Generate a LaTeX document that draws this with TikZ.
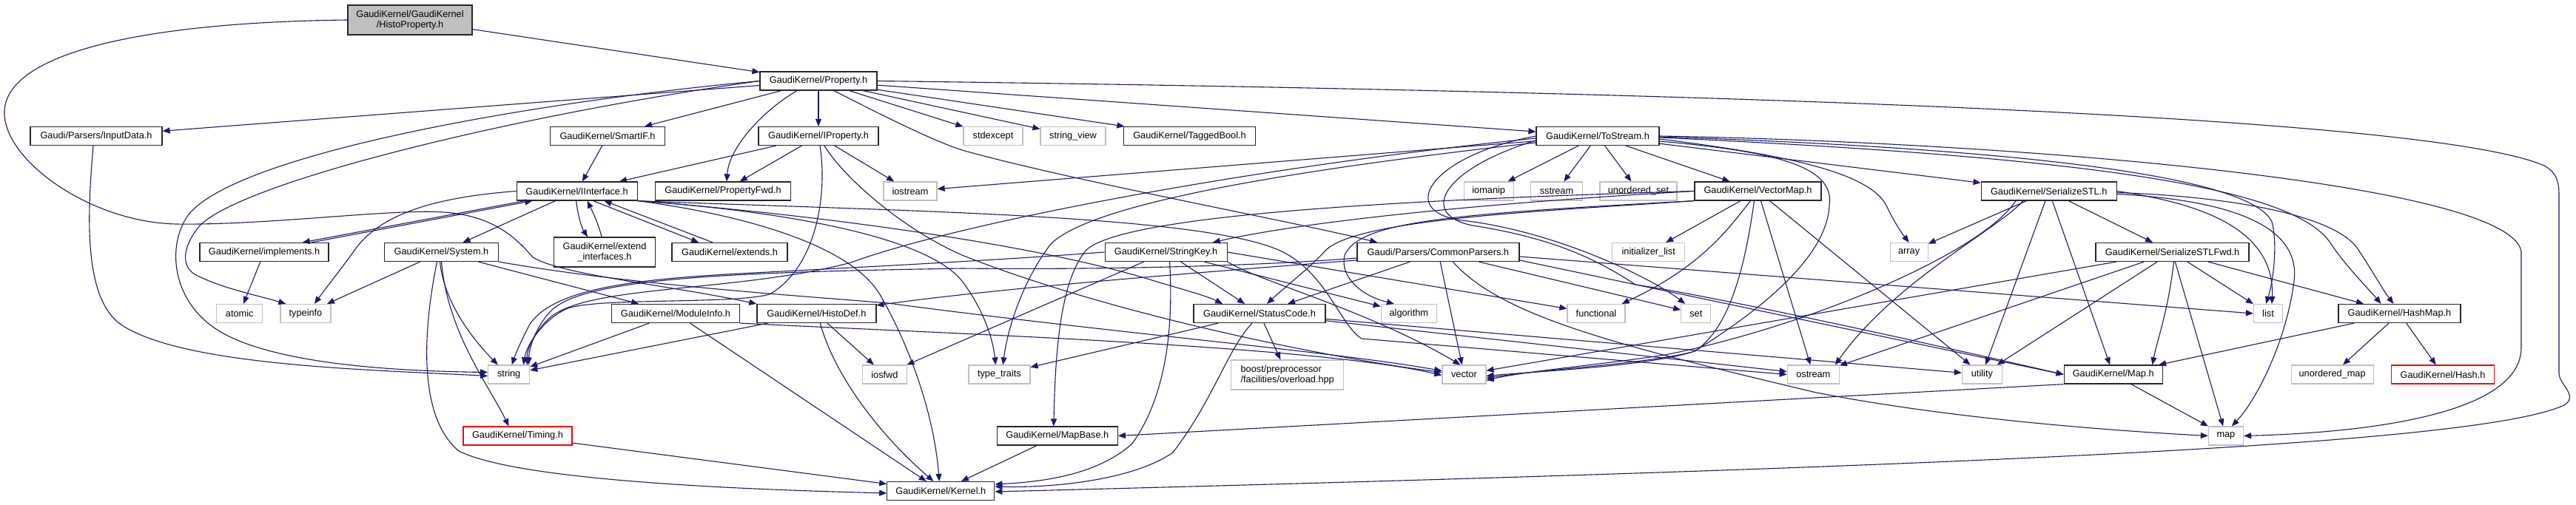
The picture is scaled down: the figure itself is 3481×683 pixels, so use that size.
\documentclass[tikz,border=0pt]{standalone}
\usepackage{fontspec}
\setmainfont{Liberation Sans}
\usetikzlibrary{arrows.meta}
\definecolor{edgec}{HTML}{191970}
\definecolor{sysgray}{HTML}{BFBFBF}
\definecolor{redb}{HTML}{FF0000}
\tikzset{
  hdr/.style={draw=black!85, line width=1.2bp, rectangle, inner sep=0pt, minimum height=25bp, align=center, text=black, font=\fontsize{12.8}{14.5}\selectfont},
  sys/.style={hdr, draw=sysgray},
  redhdr/.style={hdr, draw=redb},
  roothdr/.style={hdr, fill=sysgray},
  inc/.style={draw=edgec, line width=1.1bp, -{Triangle[length=10bp,width=8bp]}},
}
\begin{document}
\begin{tikzpicture}[x=1bp,y=-1bp]
\fill[white] (0,0) rectangle (3481,683);
\useasboundingbox (0,0) rectangle (3481,683);
% ---------------- nodes ----------------
\node[roothdr, minimum width=168bp, minimum height=40bp] (root) at (554,27) {GaudiKernel/GaudiKernel\\/HistoProperty.h};
\node[hdr, minimum width=158bp] (Property) at (1106,109.5) {GaudiKernel/Property.h};
\node[hdr, minimum width=178bp] (InputData) at (130,184) {Gaudi/Parsers/InputData.h};
\node[hdr, minimum width=155bp] (SmartIF) at (821,184) {GaudiKernel/SmartIF.h};
\node[hdr, minimum width=162bp] (IProperty) at (1106,184) {GaudiKernel/IProperty.h};
\node[sys, minimum width=80bp] (stdexcept) at (1342,184) {stdexcept};
\node[sys, minimum width=88bp] (stringview) at (1450,184) {string\_view};
\node[hdr, minimum width=178bp] (TaggedBool) at (1607.5,184) {GaudiKernel/TaggedBool.h};
\node[hdr, minimum width=166bp] (ToStream) at (2159,184) {GaudiKernel/ToStream.h};
\node[hdr, minimum width=163bp] (IInterface) at (779.6,258.5) {GaudiKernel/IInterface.h};
\node[hdr, minimum width=183bp] (PropertyFwd) at (977,258.5) {GaudiKernel/PropertyFwd.h};
\node[sys, minimum width=72bp] (iostream) at (1230,258.5) {iostream};
\node[sys, minimum width=67bp] (iomanip) at (2011.7,258.5) {iomanip};
\node[sys, minimum width=70bp] (sstream) at (2103.5,258.5) {sstream};
\node[sys, minimum width=104bp] (unorderedset) at (2214,258.5) {unordered\_set};
\node[hdr, minimum width=171bp] (VectorMap) at (2375.5,258.5) {GaudiKernel/VectorMap.h};
\node[hdr, minimum width=183bp] (SerializeSTL) at (2768.7,258.5) {GaudiKernel/SerializeSTL.h};
\node[hdr, minimum width=174bp] (implements) at (357,341) {GaudiKernel/implements.h};
\node[hdr, minimum width=154bp] (System) at (596.5,341) {GaudiKernel/System.h};
\node[hdr, minimum width=137bp, minimum height=40bp] (extendif) at (817,341) {GaudiKernel/extend\\\_interfaces.h};
\node[hdr, minimum width=156bp] (extends) at (986,341) {GaudiKernel/extends.h};
\node[hdr, minimum width=165bp] (StringKey) at (1575.6,341) {GaudiKernel/StringKey.h};
\node[hdr, minimum width=219bp] (CommonParsers) at (1943.4,341) {Gaudi/Parsers/CommonParsers.h};
\node[sys, minimum width=98bp] (initlist) at (2227.7,341) {initializer\_list};
\node[sys, minimum width=51bp] (array) at (2579.6,341) {array};
\node[hdr, minimum width=207bp] (SerializeSTLFwd) at (2935.5,341) {GaudiKernel/SerializeSTLFwd.h};
\node[sys, minimum width=62bp] (atomic) at (323.7,424) {atomic};
\node[sys, minimum width=68bp] (typeinfo) at (413,424) {typeinfo};
\node[hdr, minimum width=173bp] (ModuleInfo) at (913,424) {GaudiKernel/ModuleInfo.h};
\node[hdr, minimum width=161bp] (HistoDef) at (1103.4,424) {GaudiKernel/HistoDef.h};
\node[hdr, minimum width=178bp] (StatusCode) at (1702,424) {GaudiKernel/StatusCode.h};
\node[sys, minimum width=75bp] (algorithm) at (1903.8,424) {algorithm};
\node[sys, minimum width=78bp] (functional) at (2157,424) {functional};
\node[sys, minimum width=40bp] (set) at (2291.8,424) {set};
\node[sys, minimum width=39bp] (list) at (3065,424) {list};
\node[hdr, minimum width=165bp] (HashMap) at (3242.4,424) {GaudiKernel/HashMap.h};
\node[sys, minimum width=56bp] (string) at (687.7,506.5) {string};
\node[sys, minimum width=60bp] (iosfwd) at (1195.4,506.5) {iosfwd};
\node[sys, minimum width=83bp] (typetraits) at (1350.4,506.5) {type\_traits};
\node[sys, minimum width=152bp, minimum height=40bp, align=left] (boost) at (1739.7,507) {boost/preprocessor\\/facilities/overload.hpp};
\node[sys, minimum width=59bp] (vector) at (1978.4,506.5) {vector};
\node[sys, minimum width=70bp] (ostream) at (2450.3,506.5) {ostream};
\node[sys, minimum width=54bp] (utility) at (2678.4,506.5) {utility};
\node[hdr, minimum width=133bp] (Map) at (2855.7,506.5) {GaudiKernel/Map.h};
\node[sys, minimum width=111bp] (unorderedmap) at (3151.6,506.5) {unordered\_map};
\node[redhdr, minimum width=139bp] (Hash) at (3301,506.5) {GaudiKernel/Hash.h};
\node[redhdr, minimum width=147bp] (Timing) at (699.5,589.5) {GaudiKernel/Timing.h};
\node[hdr, minimum width=163bp] (MapBase) at (1428.8,589.5) {GaudiKernel/MapBase.h};
\node[sys, minimum width=47bp] (map) at (3007.9,589.5) {map};
\node[hdr, minimum width=145bp] (Kernel) at (1271.3,664) {GaudiKernel/Kernel.h};
% ---------------- edges ----------------
% root
\draw[inc] (root) -- (Property);
\draw[inc] (root.west) .. controls (200,30) and (10,70) .. (6,150) .. controls (3,215) and (120,300) .. (237,303) .. controls (360,305) and (530,282) .. (600,287) .. controls (670,292) and (700,325) .. (720,348) .. controls (760,372) and (900,385) .. (HistoDef.north west);
% Property
\draw[inc] (Property) -- (InputData);
\draw[inc] (Property) -- (SmartIF);
\draw[inc] (Property) -- (IProperty);
\draw[inc] ([xshift=-29]Property.south) .. controls (1030,150) and (985,200) .. ([xshift=5]PropertyFwd.north);
\draw[inc] (Property) -- (stdexcept);
\draw[inc] (Property) -- (stringview);
\draw[inc] (Property) -- (TaggedBool);
\draw[inc] (Property) -- (ToStream);
\draw[inc] ([xshift=21]Property.south) .. controls (1190,155) and (1260,190) .. (1300,203) .. controls (1450,245) and (1750,300) .. ([xshift=28]CommonParsers.north west);
\draw[inc] (Property.east) .. controls (2400,125) and (3300,160) .. (3440,225) .. controls (3455,235) and (3458,245) .. (3458,265) -- (3458,505) .. controls (3458,520) and (3485,535) .. (3465,548) .. controls (3350,600) and (2700,630) .. ([yshift=-1]Kernel.east);
\draw[inc] (Property.west) .. controls (700,140) and (320,210) .. (255,290) .. controls (225,330) and (230,410) .. (300,450) .. controls (380,495) and (550,502) .. ([yshift=3]string.west);
\draw[inc] (Property.west) .. controls (700,155) and (330,245) .. (270,305) .. controls (245,335) and (245,362) .. (265,372) .. controls (300,390) and (350,400) .. ([xshift=8]typeinfo.north west);
% InputData, SmartIF
\draw[inc] ([xshift=-4]InputData.south) .. controls (118,290) and (112,405) .. (165,440) .. controls (250,495) and (500,500) .. ([yshift=-2]string.west);
\draw[inc] (SmartIF) -- (IInterface);
% IProperty
\draw[inc] (IProperty) -- (IInterface);
\draw[inc] (IProperty) -- (PropertyFwd);
\draw[inc] (IProperty) -- (iostream);
\draw[inc] ([xshift=2]IProperty.south) .. controls (1118,260) and (1105,360) .. (1040,398) .. controls (990,412) and (800,402) .. (765,418) .. controls (735,432) and (712,465) .. ([xshift=-9]string.north east);
\draw[inc] ([xshift=8]IProperty.south) .. controls (1140,240) and (1220,310) .. (1300,345) .. controls (1500,425) and (1800,485) .. ([yshift=3]vector.west);
% ToStream
\draw[inc] (ToStream) -- (iostream);
\draw[inc] (ToStream) -- (iomanip);
\draw[inc] (ToStream) -- (sstream);
\draw[inc] (ToStream) -- (unorderedset);
\draw[inc] (ToStream) -- (VectorMap);
\draw[inc] (ToStream) -- (SerializeSTL);
\draw[inc] ([yshift=-4]ToStream.east) .. controls (2420,210) and (2530,235) .. (2550,280) .. controls (2562,305) and (2572,318) .. (array.north);
\draw[inc] ([yshift=-7]ToStream.east) .. controls (2400,205) and (2480,225) .. (2472,278) .. controls (2468,360) and (2345,440) .. (2290,475) .. controls (2230,495) and (2080,502) .. ([yshift=-2]vector.east);
\draw[inc] ([yshift=-1]ToStream.east) .. controls (2700,200) and (3040,235) .. (3070,300) .. controls (3078,330) and (3072,380) .. ([xshift=-3]list.north);
\draw[inc] (ToStream.east) .. controls (2700,192) and (3390,245) .. (3407,340) -- (3407,470) .. controls (3407,560) and (3200,585) .. (map.east);
\draw[inc] ([yshift=-2]ToStream.east) .. controls (2800,212) and (3100,250) .. (3150,330) .. controls (3170,360) and (3200,390) .. ([xshift=-25]HashMap.north);
\draw[inc] (ToStream.west) .. controls (1935,210) and (1885,285) .. (1975,298) .. controls (2100,312) and (2230,375) .. ([xshift=6]set.north west);
\draw[inc] ([yshift=-6]ToStream.west) .. controls (1950,228) and (1915,290) .. (1990,305) .. controls (2100,322) and (2160,352) .. (2210,385) .. controls (2280,395) and (2500,440) .. (Map.west);
\draw[inc] ([yshift=-3]ToStream.west) .. controls (1700,225) and (1300,300) .. (1150,355) .. controls (1000,395) and (800,385) .. (745,428) .. controls (725,445) and (712,470) .. ([xshift=-4]string.north east);
\draw[inc] ([yshift=-9]ToStream.west) .. controls (1700,235) and (1470,280) .. (1420,330) .. controls (1385,375) and (1362,440) .. ([xshift=5]typetraits.north);
% IInterface
\draw[inc] ([xshift=12]IInterface.south west) -- ([xshift=52]implements.north);
\draw[inc] ([xshift=64]implements.north) -- ([xshift=22]IInterface.south west);
\draw[inc] (IInterface) -- (System);
\draw[inc] ([xshift=-1]IInterface.south) .. controls (781,292) and (786,308) .. ([xshift=-23]extendif.north);
\draw[inc] ([xshift=-4]extendif.north) .. controls (808,300) and (800,285) .. ([xshift=14]IInterface.south);
\draw[inc] ([xshift=22]IInterface.south) -- ([xshift=-42]extends.north);
\draw[inc] ([xshift=-23]extends.north) -- ([xshift=37]IInterface.south);
\draw[inc] (IInterface.west) .. controls (600,266) and (515,285) .. (478,340) .. controls (460,365) and (440,390) .. ([xshift=12]typeinfo.north);
\draw[inc] (IInterface.south east) .. controls (1000,290) and (1150,330) .. (1190,400) .. controls (1230,470) and (1262,560) .. ([xshift=-2]Kernel.north);
\draw[inc] (IInterface.south east) .. controls (1100,290) and (1400,330) .. (1560,380) .. controls (1600,392) and (1630,400) .. ([xshift=-50]StatusCode.north);
\draw[inc] (IInterface.south east) .. controls (1050,285) and (1250,318) .. (1300,380) .. controls (1330,420) and (1342,460) .. ([xshift=-5]typetraits.north);
\draw[inc] (IInterface.south east) .. controls (1200,285) and (1600,290) .. (1720,335) .. controls (1790,360) and (1810,440) .. (1840,458) -- (ostream.west);
% implements
\draw[inc] (implements) -- (atomic);
% System
\draw[inc] (System) -- (typeinfo);
\draw[inc] (System) -- (ModuleInfo);
\draw[inc] ([xshift=-2]System.south) .. controls (600,410) and (640,460) .. ([xshift=-15]string.north);
\draw[inc] (System.south) .. controls (605,450) and (660,520) .. ([xshift=-12]Timing.north);
\draw[inc] ([xshift=-6]System.south) .. controls (575,430) and (560,560) .. (620,610) .. controls (700,650) and (1000,662) .. ([yshift=-3]Kernel.west);
\draw[inc] (System.south east) .. controls (850,385) and (1080,400) .. (1200,410) .. controls (1500,450) and (1800,475) .. ([yshift=5]vector.west);
% ModuleInfo
\draw[inc] (ModuleInfo) -- (string);
\draw[inc] (ModuleInfo) -- (Kernel);
\draw[inc] (ModuleInfo.south east) .. controls (1300,452) and (1780,468) .. ([yshift=-1]vector.west);
% HistoDef
\draw[inc] (HistoDef) -- (string);
\draw[inc] (HistoDef) -- (iosfwd);
\draw[inc] ([xshift=5]HistoDef.south) .. controls (1125,500) and (1180,580) .. ([xshift=-10]Kernel.north);
% StringKey
\draw[inc] (StringKey) -- (iosfwd);
\draw[inc] ([xshift=5]StringKey.south) .. controls (1585,430) and (1580,530) .. (1530,600) .. controls (1480,645) and (1400,652) .. ([yshift=9]Kernel.east);
\draw[inc] (StringKey) -- (StatusCode);
\draw[inc] (StringKey) -- (algorithm);
\draw[inc] (StringKey.east) -- (functional);
\draw[inc] (StringKey.south east) .. controls (1700,380) and (1850,420) .. ([xshift=-5]vector.north);
\draw[inc] (StringKey.west) .. controls (1350,352) and (1150,362) .. (1000,370) .. controls (850,378) and (745,392) .. (715,440) .. controls (705,460) and (698,475) .. ([xshift=4]string.north);
% CommonParsers
\draw[inc] (CommonParsers) -- (StatusCode);
\draw[inc] (CommonParsers) -- (vector);
\draw[inc] (CommonParsers) -- (set);
\draw[inc] ([yshift=-6]CommonParsers.east) -- (list.west);
\draw[inc] ([xshift=20]CommonParsers.south) .. controls (2030,430) and (2200,470) .. (2450,530) .. controls (2650,570) and (2900,585) .. (map.west);
\draw[inc] ([yshift=-11]CommonParsers.east) -- (Map.west);
\draw[inc] ([yshift=-8]CommonParsers.west) .. controls (1700,360) and (1480,365) .. (1300,363) .. controls (1000,368) and (790,375) .. (745,420) .. controls (725,440) and (715,470) .. ([xshift=-2]string.north east);
\draw[inc] ([yshift=-11]CommonParsers.west) .. controls (1600,370) and (1350,390) .. ([yshift=-2]HistoDef.north east);
% StatusCode
\draw[inc] ([xshift=-10]StatusCode.south) .. controls (1660,470) and (1640,540) .. (1585,612) .. controls (1530,650) and (1420,660) .. ([yshift=6]Kernel.east);
\draw[inc] (StatusCode) -- (typetraits);
\draw[inc] (StatusCode) -- (boost);
\draw[inc] (StatusCode) -- (ostream);
\draw[inc] (StatusCode) -- (utility);
% VectorMap
\draw[inc] (VectorMap.west) .. controls (1900,270) and (1520,290) .. (1468,338) .. controls (1432,380) and (1426,480) .. ([xshift=-5]MapBase.north);
\draw[inc] (VectorMap.south west) .. controls (2100,285) and (1830,295) .. (1790,340) .. controls (1770,362) and (1740,385) .. ([xshift=10]StatusCode.north);
\draw[inc] (VectorMap.west) .. controls (2000,275) and (1760,300) .. ([xshift=-20]StringKey.north east);
\draw[inc] (VectorMap.south west) .. controls (1950,290) and (1838,300) .. (1817,345) .. controls (1810,375) and (1840,400) .. ([xshift=-20]algorithm.north);
\draw[inc] ([xshift=-10]VectorMap.south) .. controls (2335,310) and (2300,360) .. ([xshift=-5]functional.north east);
\draw[inc] (VectorMap) -- (initlist);
\draw[inc] (VectorMap) -- (ostream);
\draw[inc] (VectorMap) -- (utility);
\draw[inc] ([xshift=-5]VectorMap.south) .. controls (2362,330) and (2345,440) .. (2290,475) .. controls (2230,492) and (2080,500) .. ([yshift=-5]vector.east);
% SerializeSTL
\draw[inc] (SerializeSTL) -- (array);
\draw[inc] (SerializeSTL) -- (SerializeSTLFwd);
\draw[inc] ([xshift=-35]SerializeSTL.south) .. controls (2700,310) and (2560,380) .. ([xshift=-6]ostream.north east);
\draw[inc] ([xshift=-45]SerializeSTL.south) .. controls (2680,340) and (2450,440) .. (2250,480) .. controls (2150,495) and (2060,502) .. ([yshift=-8]vector.east);
\draw[inc] (SerializeSTL) -- (utility);
\draw[inc] (SerializeSTL) -- (Map);
\draw[inc] (SerializeSTL.east) .. controls (2950,272) and (3075,300) .. ([xshift=5]list.north);
\draw[inc] ([yshift=-4]SerializeSTL.east) .. controls (3000,270) and (3110,300) .. (3100,380) .. controls (3090,460) and (3050,540) .. ([xshift=8]map.north);
\draw[inc] ([yshift=-2]SerializeSTL.east) .. controls (3000,265) and (3150,288) .. (3185,335) .. controls (3205,365) and (3220,392) .. ([xshift=-8]HashMap.north);
% SerializeSTLFwd
\draw[inc] (SerializeSTLFwd) -- (list);
\draw[inc] (SerializeSTLFwd) -- (HashMap);
\draw[inc] (SerializeSTLFwd) -- (map);
\draw[inc] ([xshift=2]SerializeSTLFwd.south) .. controls (2930,420) and (2915,460) .. ([xshift=53]Map.north);
\draw[inc] (SerializeSTLFwd) -- (utility);
\draw[inc] (SerializeSTLFwd) -- (ostream);
\draw[inc] (SerializeSTLFwd) -- (vector);
% HashMap, Map, MapBase, Timing
\draw[inc] (HashMap) -- (Map);
\draw[inc] (HashMap) -- (unorderedmap);
\draw[inc] (HashMap) -- (Hash);
\draw[inc] (Map.south west) -- (MapBase.east);
\draw[inc] (Map) -- (map);
\draw[inc] (MapBase) -- (Kernel);
\draw[inc] (Timing) -- (Kernel);
\end{tikzpicture}
\end{document}
